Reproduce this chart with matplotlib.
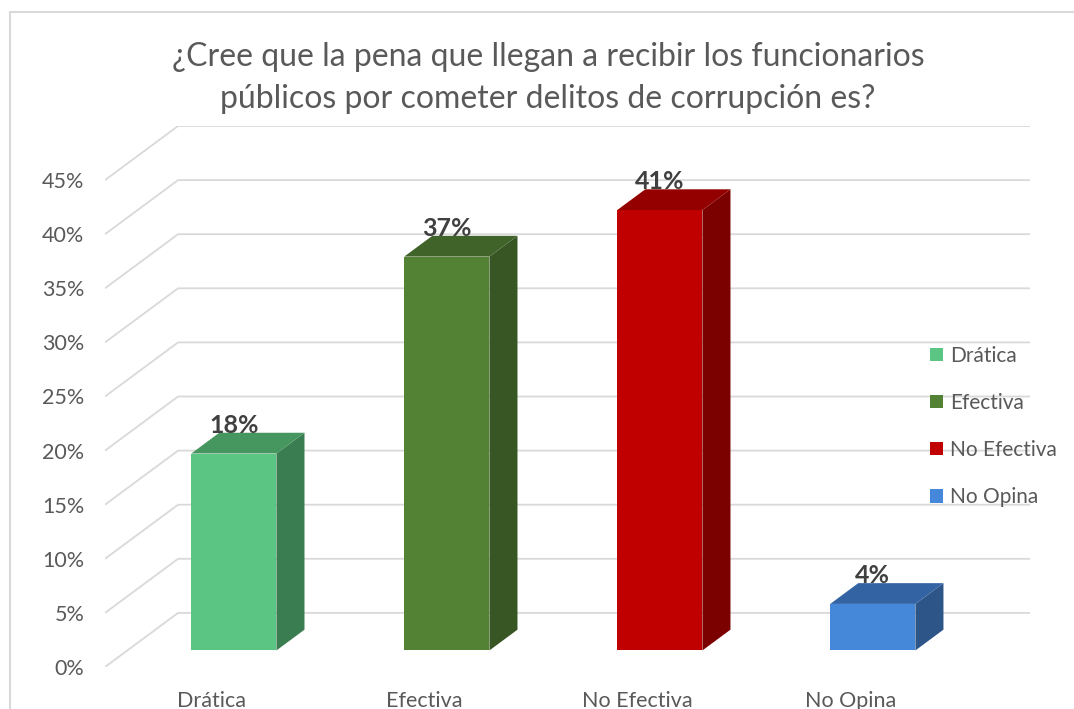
import matplotlib
matplotlib.use("Agg")
import matplotlib.pyplot as plt
from matplotlib.patches import Polygon, Patch, Rectangle

categories = ["Drática", "Efectiva", "No Efectiva", "No Opina"]
values = [18.2, 36.4, 40.7, 4.3]
labels = ["18%", "37%", "41%", "4%"]
front_colors = ["#5BC584", "#548235", "#C00000", "#4587D9"]
top_colors = ["#45965F", "#40632A", "#940000", "#3363A3"]
side_colors = ["#3A7D50", "#375623", "#7B0000", "#2D5588"]
yticks = [0, 5, 10, 15, 20, 25, 30, 35, 40, 45]
title = "¿Cree que la pena que llegan a recibir los funcionarios\npúblicos por cometer delitos de corrupción es?"

plt.rcParams["font.family"] = ["Lato", "DejaVu Sans"]

# oblique 3d look: depth vector in data units
DX = 0.343
DY = 5.0
f0 = 0.306   # bar front, fraction of depth
fd = 0.384   # bar depth, fraction of depth
bw = 0.4

fig = plt.figure(figsize=(10.74, 7.09), dpi=100)
W, H = 1074, 709
ax = fig.add_axes([105 / W, (H - 667) / H, 925 / W, 541 / H])
ax.set_xlim(-0.5, 3.5 + DX)
ax.set_ylim(0, 45 + DY)
for s in ax.spines.values():
    s.set_visible(False)

grid_c = "#D9D9D9"
for v in yticks:
    ax.plot([-0.5, -0.5 + DX, 3.5 + DX], [v, v + DY, v + DY], color=grid_c, lw=1.3, zorder=0,
            solid_capstyle="butt")

for i, v in enumerate(values):
    xl = i - bw / 2 + f0 * DX
    xr = xl + bw
    y0 = f0 * DY
    ax.bar(xl + bw / 2, v, bottom=y0, width=bw, color=front_colors[i], zorder=2)
    side = [(xr, y0), (xr + fd * DX, y0 + fd * DY), (xr + fd * DX, y0 + v + fd * DY), (xr, y0 + v)]
    top = [(xl, y0 + v), (xr, y0 + v), (xr + fd * DX, y0 + v + fd * DY), (xl + fd * DX, y0 + v + fd * DY)]
    ax.add_patch(Polygon(side, closed=True, facecolor=side_colors[i], edgecolor="none", zorder=2))
    ax.add_patch(Polygon(top, closed=True, facecolor=top_colors[i], edgecolor="none", zorder=2))
    ax.annotate(labels[i], (xl + bw / 2, y0 + v + fd * DY), xytext=(0, 0), textcoords="offset points",
                ha="center", va="baseline", fontsize=18, fontweight="bold", color="#404040", zorder=3)

ax.set_yticks(yticks)
ax.set_yticklabels([f"{t}%" for t in yticks])
ax.set_xticks(range(len(categories)))
ax.set_xticklabels(categories)
ax.tick_params(axis="y", length=0, pad=15, labelsize=15.5, labelcolor="#595959")
ax.tick_params(axis="x", length=0, pad=17, labelsize=15.5, labelcolor="#595959")

handles = [Patch(facecolor=c, edgecolor="none") for c in front_colors]
fig.legend(handles, categories, loc="upper left", bbox_to_anchor=(930 / W, 1 - 346 / H), frameon=False,
           fontsize=15, labelcolor="#595959", handlelength=0.6, handleheight=0.6, handletextpad=0.35,
           labelspacing=1.3, borderaxespad=0, borderpad=0)

fig.text(548 / W, 1 - 78 / H, title, ha="center", va="center", fontsize=23, color="#595959",
         linespacing=1.5)

# chart frame
fig.patches.append(Rectangle((10 / W, -0.1), 1.2, 1 - 12 / H + 0.1, transform=fig.transFigure,
                             facecolor="none", edgecolor=grid_c, lw=1.5))

fig.savefig("out.png", dpi=100)
